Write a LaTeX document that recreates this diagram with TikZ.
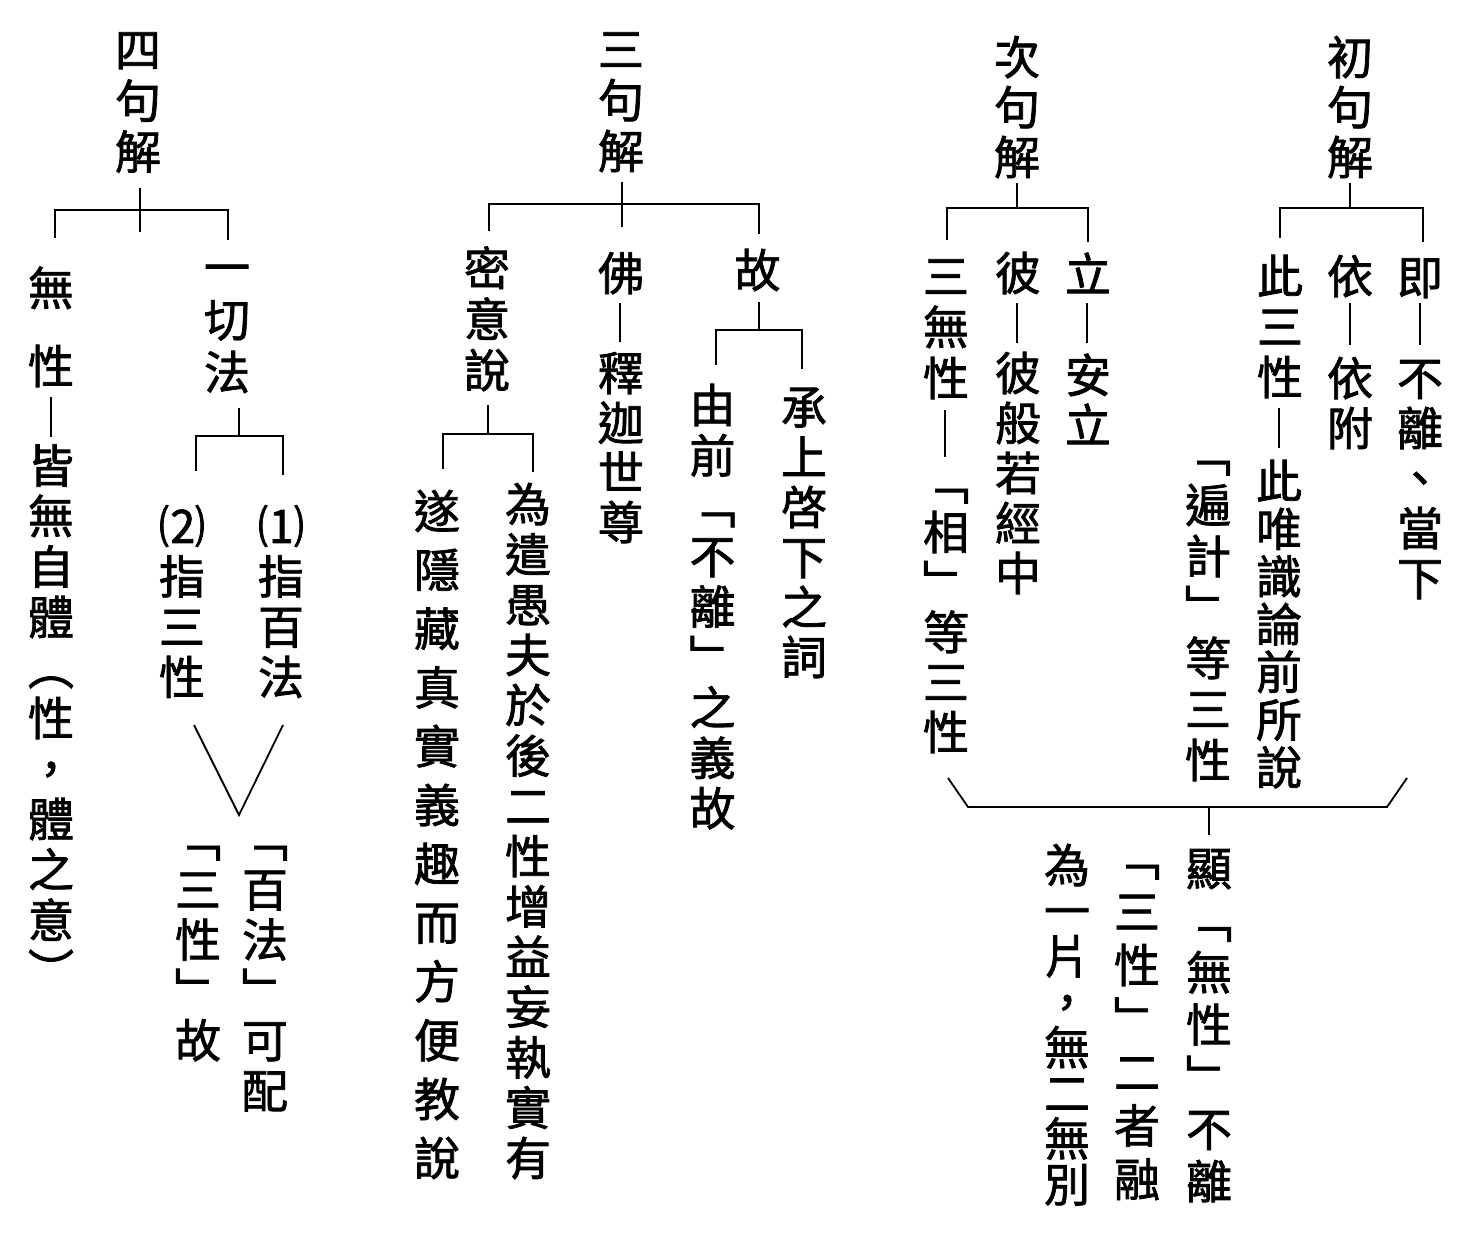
\documentclass[tikz,border=0pt]{standalone}
\usepackage{fontspec}
\newfontfamily\cjk[FakeBold=1.6]{Noto Sans CJK TC}
\makeatletter
\def\vstk@end{\vstk@end}
\def\vstk@loop#1{\ifx#1\vstk@end\else\hbox to 46pt{\hss#1\hss}\expandafter\vstk@loop\fi}
\newcommand\vstk[2]{\vtop{\baselineskip=#1pt\lineskiplimit=-1000pt\lineskip=0pt\relax\vstk@loop#2\vstk@end}}
\makeatother
\tikzset{
  vt/.style={font=\cjk\fontsize{46}{46}\selectfont, inner sep=0pt, outer sep=0pt, anchor=base},
  conn/.style={line width=1.8pt, black}
}
\newcommand\vnode[5]{\node[vt] (#1) at (#2,{#3+17.5}) {\vstk{#4}{#5}};}
\begin{document}
\begin{tikzpicture}[x=1pt,y=-1pt]
\fill[white] (0,0) rectangle (1480,1233);
\useasboundingbox (0,0) rectangle (1480,1233);
% ---------- tree 1 : 四句解 ----------
\vnode{h4}{138}{49.5}{51}{四句解}
\vnode{a1}{51}{288}{78}{無性}
\vnode{a2}{51}{465.5}{50.5}{皆無自體︵性，體之意︶}
\vnode{b1}{227}{267}{52.5}{一切法}
\vnode{b2}{182}{526}{50.3}{⑵指三性}
\vnode{b3}{281}{526}{50.3}{⑴指百法}
\vnode{b4}{198}{839}{50.3}{﹁三性﹂故}
\vnode{b5}{265}{839}{50.3}{﹁百法﹂可配}
\coordinate (t4s1) at (140,188); \coordinate (t4s2) at (140,232);
\coordinate (t4l) at (55,238); \coordinate (t4r) at (228,240);
\coordinate (t4bar) at (0,210);
\draw[conn] (t4s1) -- (t4s2);
\draw[conn] (t4l) |- (t4r |- t4bar) -- (t4r);
\coordinate (a12t) at (51,397); \coordinate (a12b) at (51,437);
\draw[conn] (a12t) -- (a12b);
\coordinate (b1s1) at (239,408); \coordinate (b1s2) at (239,436);
\coordinate (b1l) at (196,471); \coordinate (b1r) at (283,475);
\draw[conn] (b1s1) -- (b1s2);
\draw[conn] (b1l) |- (b1r |- b1s2) -- (b1r);
\coordinate (vl) at (194,725); \coordinate (vb) at (239,815); \coordinate (vr) at (283,725);
\draw[conn] (vl) -- (vb) -- (vr);
% ---------- tree 2 : 三句解 ----------
\vnode{h3}{621}{49}{51}{三句解}
\vnode{c1}{487}{268}{51}{密意說}
\vnode{c2}{621}{273}{50}{佛}
\vnode{c3}{757.5}{270}{50}{故}
\vnode{c4}{621}{373}{49.7}{釋迦世尊}
\vnode{c5}{437}{511}{58.8}{遂隱藏真實義趣而方便教說}
\vnode{c6}{528}{504}{50.3}{為遣愚夫於後二性增益妄執實有}
\vnode{c7}{712.5}{405}{50.4}{由前﹁不離﹂之義故}
\vnode{c8}{804}{407}{50}{承上啓下之詞}
\coordinate (h3s1) at (622,182); \coordinate (h3s2) at (622,227);
\coordinate (h3l) at (489,231); \coordinate (h3r) at (759,234); \coordinate (h3bar) at (0,204);
\draw[conn] (h3s1) -- (h3s2);
\draw[conn] (h3l) |- (h3r |- h3bar) -- (h3r);
\coordinate (c24t) at (620,303); \coordinate (c24b) at (620,342);
\draw[conn] (c24t) -- (c24b);
\coordinate (c1s1) at (488,405); \coordinate (c1s2) at (488,434);
\coordinate (c1l) at (443,469); \coordinate (c1r) at (533,472);
\draw[conn] (c1s1) -- (c1s2);
\draw[conn] (c1l) |- (c1r |- c1s2) -- (c1r);
\coordinate (c3s1) at (759,302); \coordinate (c3s2) at (759,330);
\coordinate (c3l) at (716,365); \coordinate (c3r) at (802,369);
\draw[conn] (c3s1) -- (c3s2);
\draw[conn] (c3l) |- (c3r |- c3s2) -- (c3r);
% ---------- tree 3 : 次句解 ----------
\vnode{h2}{1017}{57}{50}{次句解}
\vnode{d1}{946}{276}{51}{三無性}
\vnode{d2}{1018}{273}{50}{彼}
\vnode{d3}{1088}{274}{50}{立}
\vnode{d4}{946}{482}{50}{﹁相﹂等三性}
\vnode{d5}{1018}{373}{50}{彼般若經中}
\vnode{d6}{1088}{375}{50}{安立}
\coordinate (h2s1) at (1017,183); \coordinate (h2s2) at (1017,208);
\coordinate (h2l) at (947,240); \coordinate (h2r) at (1088,242);
\draw[conn] (h2s1) -- (h2s2);
\draw[conn] (h2l) |- (h2r |- h2s2) -- (h2r);
\coordinate (d14t) at (945,410); \coordinate (d14b) at (945,457);
\draw[conn] (d14t) -- (d14b);
\coordinate (d25t) at (1017,303); \coordinate (d25b) at (1017,343);
\draw[conn] (d25t) -- (d25b);
\coordinate (d36t) at (1087,303); \coordinate (d36b) at (1087,343);
\draw[conn] (d36t) -- (d36b);
% ---------- tree 4 : 初句解 ----------
\vnode{h1}{1350}{57}{50}{初句解}
\vnode{e1}{1280}{276}{50.5}{此三性}
\vnode{e2}{1350}{276}{50}{依}
\vnode{e3}{1420}{277}{50}{即}
\vnode{e4}{1279}{481}{47.7}{此唯識論前所說}
\vnode{e5}{1208}{454}{51}{﹁遍計﹂等三性}
\vnode{e6}{1350}{378}{50}{依附}
\vnode{e7}{1420}{378}{50}{不離、當下}
\coordinate (h1s1) at (1350,183); \coordinate (h1s2) at (1350,208);
\coordinate (h1l) at (1280,238); \coordinate (h1r) at (1423,242);
\draw[conn] (h1s1) -- (h1s2);
\draw[conn] (h1l) |- (h1r |- h1s2) -- (h1r);
\coordinate (e14t) at (1279,408); \coordinate (e14b) at (1279,448);
\draw[conn] (e14t) -- (e14b);
\coordinate (e26t) at (1350,303); \coordinate (e26b) at (1350,345);
\draw[conn] (e26t) -- (e26b);
\coordinate (e37t) at (1420,303); \coordinate (e37b) at (1420,345);
\draw[conn] (e37t) -- (e37b);
% ---------- bottom conclusion ----------
\coordinate (gl) at (948,778); \coordinate (gbl) at (968,807);
\coordinate (gbr) at (1387,807); \coordinate (gr) at (1407,778);
\draw[conn] (gl) -- (gbl) -- (gbr) -- (gr);
\coordinate (gs1) at (1209,807); \coordinate (gs2) at (1209,835);
\draw[conn] (gs1) -- (gs2);
\vnode{f1}{1209}{868}{52.2}{顯﹁無性﹂不離}
\vnode{f2}{1137}{858}{53.5}{﹁三性﹂二者融}
\vnode{f3}{1067}{865}{45.6}{為一片，無二無別}
\end{tikzpicture}
\end{document}
